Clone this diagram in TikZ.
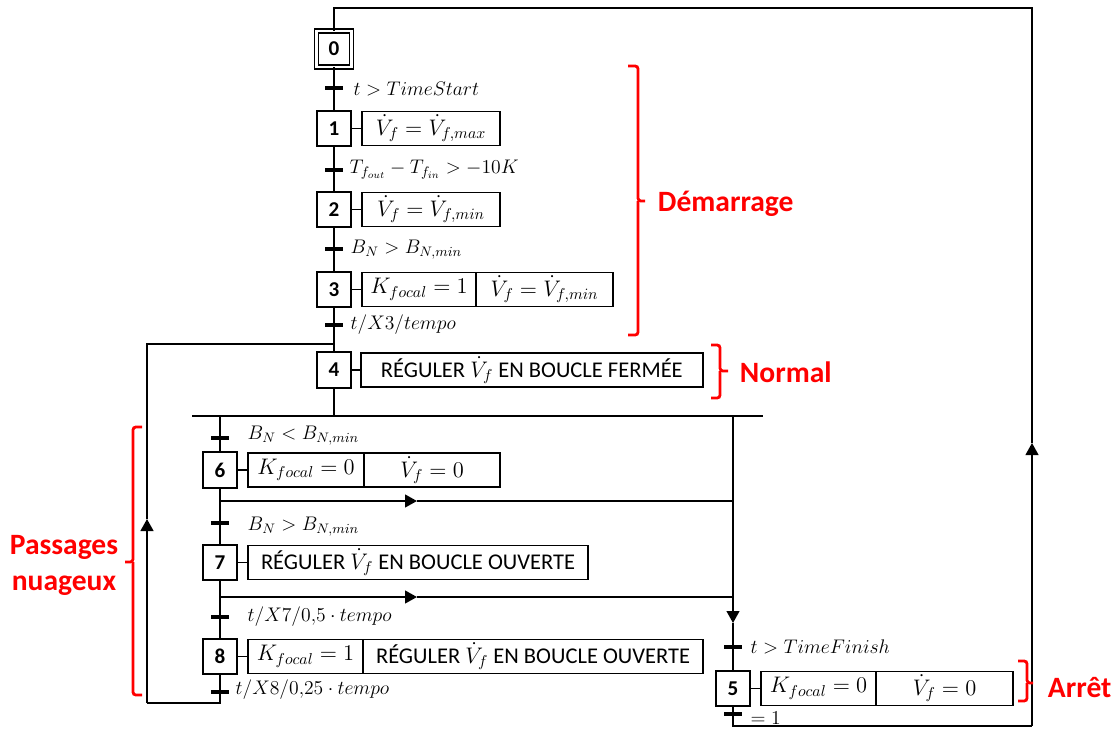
\documentclass[tikz,border=0pt]{standalone}
\usepackage{fix-cm}
\usepackage{fontspec}
\setmainfont{Carlito}
\usetikzlibrary{arrows.meta,positioning}
\definecolor{INK}{HTML}{000000}
\definecolor{ZONE}{HTML}{FF0000}

\begin{document}
\begin{tikzpicture}[
  x=0.025cm, y=-0.025cm,
  ln/.style={draw=INK, line width=1.3pt},
  stepbox/.style={draw=INK, line width=1.3pt, minimum width=0.84cm, minimum height=0.88cm, inner sep=0pt, outer sep=0pt, font=\fontsize{15}{15}\selectfont\bfseries},
  initbox/.style={stepbox, line width=1pt, double, double distance=1.6pt, minimum width=0.875cm, minimum height=0.9cm},
  act/.style={draw=INK, line width=1.3pt, minimum height=0.85cm, inner sep=2pt, outer sep=0pt, font=\fontsize{16}{16}\selectfont},
  trans/.style={fill=INK, minimum width=0.45cm, minimum height=2.2pt, inner sep=0pt, outer sep=0pt},
  cond/.style={anchor=west, inner sep=1pt, font=\fontsize{14}{14}\selectfont},
  arr/.style={ln, -{Triangle[width=0.32cm, length=0.3cm]}},
  brk/.style={draw=ZONE, line width=2pt, rounded corners=2pt},
  zone/.style={text=ZONE, font=\fontsize{21}{25.6}\selectfont\bfseries, anchor=west},
]
\useasboundingbox (0,0) rectangle (1116,729);

% main column
\node[initbox] (s0) at (334,49) {0};
\node[stepbox] (s1) at (334,128.5) {1};
\node[stepbox] (s2) at (334,209.5) {2};
\node[stepbox] (s3) at (334,289.5) {3};
\node[stepbox] (s4) at (334,370) {4};

\node[act, minimum width=3.45cm, right=0.28cm of s1] (a1) {$\dot V_f = \dot V_{f,max}$};
\node[act, minimum width=3.45cm, right=0.28cm of s2] (a2) {$\dot V_f = \dot V_{f,min}$};
\node[act, minimum width=2.85cm, right=0.28cm of s3] (a3a) {$K_{focal} = 1$};
\node[act, minimum width=3.425cm, right=0pt of a3a] (a3b) {$\dot V_f = \dot V_{f,min}$};
\node[act, minimum width=8.55cm, right=0.25cm of s4] (a4) {RÉGULER $\dot V_f$ EN BOUCLE FERMÉE};

% left branch
\node[stepbox] (s6) at (220,470) {6};
\node[stepbox] (s7) at (220,562.5) {7};
\node[stepbox] (s8) at (220,656.5) {8};

\node[act, minimum width=2.9cm, right=0.28cm of s6] (a6a) {$K_{focal} = 0$};
\node[act, minimum width=3.4cm, right=0pt of a6a] (a6b) {$\dot V_f = 0$};
\node[act, minimum width=8.5cm, right=0.28cm of s7] (a7) {RÉGULER $\dot V_f$ EN BOUCLE OUVERTE};
\node[act, minimum width=2.875cm, right=0.28cm of s8] (a8a) {$K_{focal} = 1$};
\node[act, minimum width=8.5cm, right=0pt of a8a] (a8b) {RÉGULER $\dot V_f$ EN BOUCLE OUVERTE};

% right branch
\node[stepbox] (s5) at (733,688.5) {5};
\node[act, minimum width=2.875cm, right=0.28cm of s5] (a5a) {$K_{focal} = 0$};
\node[act, minimum width=3.425cm, right=0pt of a5a] (a5b) {$\dot V_f = 0$};

% junctions
\coordinate (top0) at (334,8);
\coordinate (topR) at (1032,8);
\coordinate (arrR) at (1032,443);
\coordinate (botR) at (1032,726);
\coordinate (bot5) at (733,726);
\coordinate (j4) at (334,344);
\coordinate (tl) at (147,344);
\coordinate (al) at (147,519);
\coordinate (bl) at (147,703);
\coordinate (b8) at (220,703);
\coordinate (dv) at (334,416);
\coordinate (dvL) at (192,416);
\coordinate (dvR) at (763,416);
\coordinate (d6) at (220,416);
\coordinate (d5) at (733,416);
\coordinate (arr5) at (733,623);
\coordinate (h6) at (220,501);
\coordinate (h6a) at (417,501);
\coordinate (h6e) at (733,501);
\coordinate (h7) at (220,597);
\coordinate (h7a) at (417,597);
\coordinate (h7e) at (733,597);

% links
\draw[ln] (s0) -- (s1);
\draw[ln] (s1) -- (s2);
\draw[ln] (s2) -- (s3);
\draw[ln] (s3) -- (s4);
\draw[ln] (s4) -- (dv);
\draw[ln] (dvL) -- (dvR);
\draw[ln] (d6) -- (s6);
\draw[ln] (s6) -- (s7);
\draw[ln] (s7) -- (s8);
\foreach \s/\a in {s1/a1, s2/a2, s3/a3a, s4/a4, s6/a6a, s7/a7, s8/a8a, s5/a5a}
  \draw[ln] (\s) -- (\a);

% branch exits
\draw[arr] (h6) -- (h6a);
\draw[ln] (h6a) -- (h6e);
\draw[arr] (h7) -- (h7a);
\draw[ln] (h7a) -- (h7e);
\draw[arr] (d5) -- (arr5);
\draw[ln] (arr5) -- (s5);

% loop back to step 4
\draw[ln] (s8) -- (b8) -- (bl);
\draw[arr] (bl) -- (al);
\draw[ln] (al) -- (tl) -- (j4);

% loop back to step 0
\draw[ln] (s5) -- (bot5) -- (botR);
\draw[arr] (botR) -- (arrR);
\draw[ln] (arrR) -- (topR) -- (top0) -- (s0);

% transitions
\node[trans] (t0) at (334,88) {};
\node[trans] (t1) at (334,170) {};
\node[trans] (t2) at (334,249) {};
\node[trans] (t3) at (334,325) {};
\node[trans] (t6) at (220,438) {};
\node[trans] (t7) at (220,523) {};
\node[trans] (t8) at (220,617) {};
\node[trans] (t9) at (220,692) {};
\node[trans] (t4) at (733,647) {};
\node[trans] (t5) at (733,714) {};

\node[cond] (c0) at (352,89) {$t > TimeStart$};
\node[cond] (c1) at (348,170) {$T_{f_{out}} - T_{f_{in}} > -10K$};
\node[cond] (c2) at (349,250) {$B_N > B_{N,min}$};
\node[cond] (c3) at (349,325) {$t/X3/tempo$};
\node[cond] (c6) at (246,436) {$B_N < B_{N,min}$};
\node[cond] (c7) at (246,527) {$B_N > B_{N,min}$};
\node[cond] (c8) at (246,617) {$t/X7/0{,}5\cdot tempo$};
\node[cond] (c9) at (234,690) {$t/X8/0{,}25\cdot tempo$};
\node[cond] (c4) at (749,647) {$t > TimeFinish$};
\node[cond] (c5) at (749,718) {$=1$};

% phases
\draw[brk] (628,66) -| (638,201) -- (645,201);
\draw[brk] (628,335) -| (638,201);
\node[zone] (zDem) at (653,204) {Démarrage};

\draw[brk] (711,345) -| (720,371) -- (728,371);
\draw[brk] (711,398) -| (720,371);
\node[zone] (zNor) at (735,372) {Normal};

\draw[brk] (1018,661) -| (1027,683) -- (1033,683);
\draw[brk] (1018,701) -| (1027,683);
\node[zone] (zArr) at (1043,688) {Arrêt};

\draw[brk] (142,427) -| (133,562) -- (125,562);
\draw[brk] (142,695) -| (133,562);
\node[zone, anchor=center, align=center] (zPas) at (64,565) {Passages\\nuageux};

\end{tikzpicture}
\end{document}
